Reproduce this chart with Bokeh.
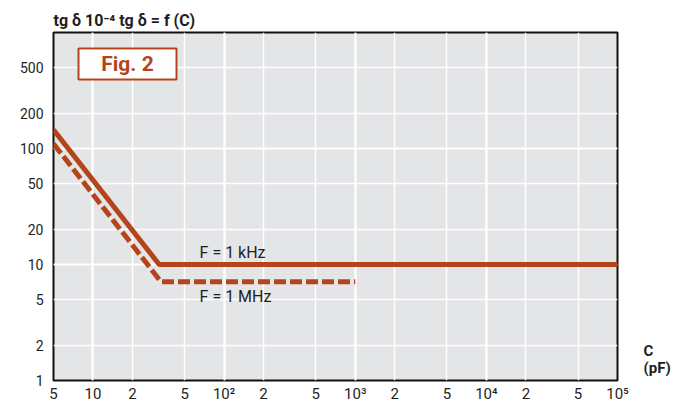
from bokeh.plotting import figure
from bokeh.models import (Range1d, Grid, FixedTicker, Label, LogAxis,
                          BoxAnnotation)
from bokeh.embed import file_html
from bokeh.resources import INLINE

# ---- data ----
cap_1khz = [5, 32, 100000]
tg_1khz = [145, 10, 10]
cap_1mhz = [5, 33, 1000]
tg_1mhz = [110, 7.1, 7.1]

x_tick_vals = [5, 10, 20, 50, 100, 200, 500, 1000, 2000, 5000,
               10000, 20000, 50000, 100000]
x_tick_text = ["5", "10", "2", "5", "10²", "2", "5", "10³", "2", "5",
               "10⁴", "2", "5", "10⁵"]
y_tick_vals = [1, 2, 5, 10, 20, 50, 100, 200, 500]
y_tick_text = ["1", "2", "5", "10", "20", "50", "100", "200", "500"]

x_grid_dec = [10, 100, 1000, 10000]
x_grid_min = [20, 50, 200, 500, 2000, 5000, 20000, 50000]
y_grid_dec = [10, 100]
y_grid_min = [2, 5, 20, 50, 200, 500]

RUST = "#B5441B"
TXT = "#1e1e1e"
FONT = "Roboto"

p = figure(width=680, height=405, x_axis_type="log", y_axis_type="log",
           x_range=Range1d(5, 100000), y_range=Range1d(1, 1000),
           x_axis_location=None, y_axis_location=None,
           toolbar_location=None, output_backend="svg",
           min_border_left=53, min_border_right=63,
           min_border_top=32, min_border_bottom=25)
p.background_fill_color = "#E4E5E7"
p.border_fill_color = "white"
p.outline_line_color = "#111111"
p.outline_line_width = 2

for dim, vals, w in [(0, x_grid_min, 1.5), (0, x_grid_dec, 2.2),
                     (1, y_grid_min, 1.5), (1, y_grid_dec, 2.2)]:
    g = Grid(dimension=dim, ticker=FixedTicker(ticks=vals),
             grid_line_color="white", grid_line_width=w)
    p.add_layout(g)

p.line(cap_1khz, tg_1khz, line_color=RUST, line_width=5)
p.line(cap_1mhz, tg_1mhz, line_color=RUST, line_width=5, line_dash="12 4")


def style_axis(ax, size, standoff):
    ax.axis_line_color = None
    ax.major_tick_line_color = None
    ax.minor_tick_line_color = None
    ax.major_tick_out = 0
    ax.major_tick_in = 0
    ax.minor_tick_out = 0
    ax.minor_tick_in = 0
    ax.major_label_text_font = FONT
    ax.major_label_text_font_size = size
    ax.major_label_text_color = TXT
    ax.major_label_standoff = standoff


xax = LogAxis(ticker=FixedTicker(ticks=x_tick_vals),
              major_label_overrides=dict(zip(x_tick_vals, x_tick_text)))
style_axis(xax, "15px", 4)
p.add_layout(xax, "below")

yax = LogAxis(ticker=FixedTicker(ticks=y_tick_vals),
              major_label_overrides=dict(zip(y_tick_vals, y_tick_text)))
style_axis(yax, "14px", 10)
p.add_layout(yax, "left")

# unit label "C (pF)" on the right side
c_pos = [1.81, 1.27]
rax = LogAxis(ticker=FixedTicker(ticks=c_pos),
              major_label_overrides={c_pos[0]: "C", c_pos[1]: "(pF)"})
style_axis(rax, "15px", 26)
rax.major_label_text_font_style = "bold"
p.add_layout(rax, "right")

# title
p.title.text = "tg δ 10⁻⁴ tg δ = f (C)"
p.title.text_font = FONT
p.title.text_font_style = "bold"
p.title.text_font_size = "16px"
p.title.text_color = TXT
p.title.align = "left"
p.title.offset = 0
p.title.standoff = 6

# Fig. 2 box
p.add_layout(BoxAnnotation(left=25, right=123, bottom=301, top=332,
                           left_units="screen", right_units="screen",
                           bottom_units="screen", top_units="screen",
                           fill_color="white", fill_alpha=1,
                           line_color=RUST, line_width=2, line_alpha=1))
p.add_layout(Label(x=74, y=316.5, x_units="screen", y_units="screen",
                   text="Fig. 2", text_font=FONT, text_font_style="bold",
                   text_font_size="21px", text_color=RUST,
                   text_align="center", text_baseline="middle"))

# series labels
p.add_layout(Label(x=65, y=12.6, text="F = 1 kHz", text_font=FONT,
                   text_font_size="16px", text_color=TXT,
                   text_align="left", text_baseline="middle"))
p.add_layout(Label(x=65, y=5.3, text="F = 1 MHz", text_font=FONT,
                   text_font_size="16px", text_color=TXT,
                   text_align="left", text_baseline="middle"))

open("out.html", "w").write(file_html(p, INLINE))
